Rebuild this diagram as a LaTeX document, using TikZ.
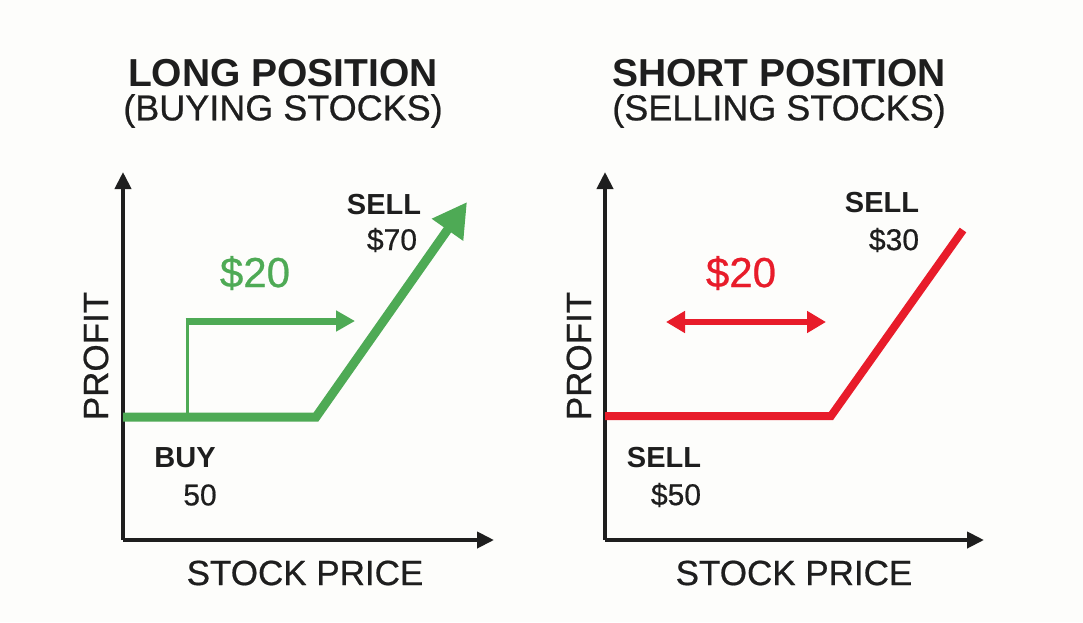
\documentclass[tikz,border=0pt]{standalone}
\usepackage{fontspec}
\setmainfont{Liberation Sans}
\newfontfamily\medfont[FakeBold=0.6]{Liberation Sans}
\usetikzlibrary{arrows.meta}
\definecolor{bg}{HTML}{FDFDFB}
\definecolor{ink}{HTML}{1E1E1E}
\definecolor{gr}{HTML}{4EAA55}
\definecolor{rd}{HTML}{E81C2A}
\tikzset{
  axis/.style={draw=ink, line width=4pt, -{Triangle[length=17pt,width=16pt]}},
  lbl/.style={text=ink, inner sep=0pt, font=\medfont\fontsize{35}{40}\selectfont},
  ttl/.style={text=ink, inner sep=0pt, font=\bfseries\fontsize{39}{44}\selectfont},
  sub/.style={text=ink, inner sep=0pt, font=\medfont\fontsize{36}{40}\selectfont},
  small/.style={text=ink, inner sep=0pt, font=\bfseries\fontsize{29}{32}\selectfont},
  val/.style={text=ink, inner sep=0pt, font=\medfont\fontsize{30}{32}\selectfont},
  big/.style={inner sep=0pt, font=\medfont\fontsize{42}{46}\selectfont},
}
\begin{document}
\begin{tikzpicture}[x=1pt,y=-1pt]
\fill[bg] (0,0) rectangle (1083,622);
\useasboundingbox (0,0) rectangle (1083,622);
% ===== Left panel =====
\node[ttl] (t1) at (283,73) {LONG POSITION};
\node[sub] (s1) at (283,111) {(BUYING STOCKS)};
\coordinate (o1) at (123,540);
\coordinate (y1) at (123,172);
\coordinate (x1) at (494,540);
\draw[axis] (o1) -- (y1);
\draw[axis] (o1) -- (x1);
\node[lbl, rotate=90] (p1) at (96,356) {PROFIT};
\node[lbl] (sp1) at (305,573) {STOCK PRICE};
\coordinate (g0) at (123,417);
\coordinate (g1) at (316,417);
\coordinate (g2) at (467,202);
\draw[gr, line width=9pt, line join=miter, -{Triangle[length=34pt,width=36pt]}] (g0) -- (g1) -- (g2);
\coordinate (b0) at (187,417);
\coordinate (b1) at (187,321);
\coordinate (b2) at (355,321);
\draw[gr, line width=3pt] (b0) -- (b1);
\draw[gr, line width=7pt, -{Triangle[length=19pt,width=20pt]}] ([xshift=-1.5pt]b1) -- (b2);
\node[big, text=gr] (d1) at (255,273) {\$20};
\node[small] (sell1) at (384,205) {SELL};
\node[val] (v1) at (392,240) {\$70};
\node[small] (buy1) at (185,458) {BUY};
\node[val] (v2) at (200,495) {50};
% ===== Right panel =====
\node[ttl] (t2) at (779,73) {SHORT POSITION};
\node[sub] (s2) at (779,111) {(SELLING STOCKS)};
\coordinate (o2) at (605,540);
\coordinate (y2) at (605,172);
\coordinate (x2) at (984,540);
\draw[axis] (o2) -- (y2);
\draw[axis] (o2) -- (x2);
\node[lbl, rotate=90] (p2) at (579,356) {PROFIT};
\node[lbl] (sp2) at (794,573) {STOCK PRICE};
\coordinate (r0) at (605,416);
\coordinate (r1) at (831,416);
\coordinate (r2) at (963,230);
\draw[rd, line width=8pt, line join=miter] (r0) -- (r1) -- (r2);
\coordinate (a0) at (666,322);
\coordinate (a1) at (826,322);
\draw[rd, line width=6pt, {Triangle[length=19pt,width=21pt]}-{Triangle[length=19pt,width=21pt]}] (a0) -- (a1);
\node[big, text=rd] (d2) at (741,273) {\$20};
\node[small] (sell2) at (882,203) {SELL};
\node[val] (v3) at (894,240) {\$30};
\node[small] (sell3) at (664,458) {SELL};
\node[val] (v4) at (676,495) {\$50};
\end{tikzpicture}
\end{document}
